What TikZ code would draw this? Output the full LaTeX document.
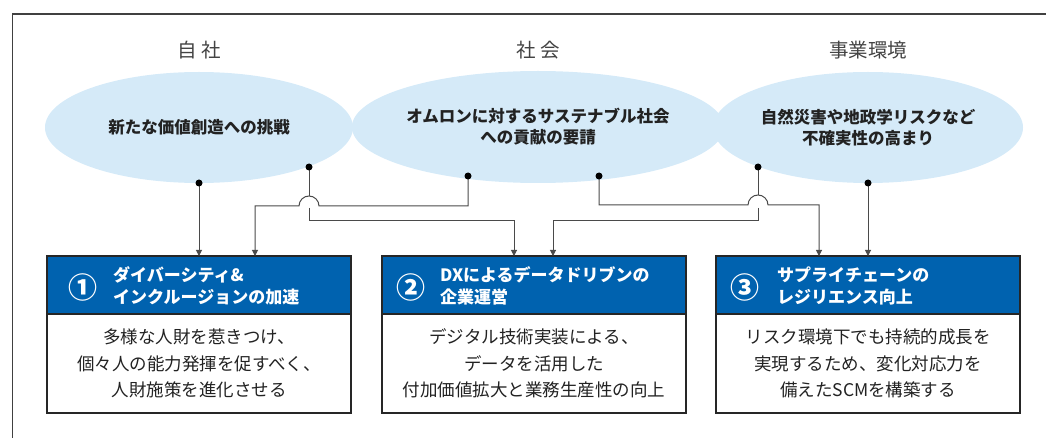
\documentclass[tikz,border=0pt]{standalone}
\usepackage{fontspec}
\setmainfont{Noto Sans CJK JP}
\usetikzlibrary{shapes.geometric,arrows.meta}
\definecolor{ellfill}{HTML}{D5EAF8}
\definecolor{hdrblue}{HTML}{0062AF}
\definecolor{linegray}{HTML}{4A4A4A}
\definecolor{txt}{HTML}{222222}
\tikzset{
  ell/.style={ellipse, fill=ellfill, draw=none, inner sep=0pt, align=center, text=txt,
    font=\fontsize{16.5}{21}\selectfont\bfseries},
  ttl/.style={text=txt!85, font=\fontsize{19.5}{22}\selectfont},
  hdrbox/.style={rectangle, fill=hdrblue, draw=black!85, line width=1.1pt, minimum width=304pt,
    minimum height=58pt, inner sep=0pt, outer sep=0pt},
  bodybox/.style={rectangle, fill=white, draw=black!85, line width=1.1pt, minimum width=304pt,
    minimum height=99pt, inner sep=0pt, outer sep=0pt, align=center, text=txt,
    font=\fontsize{17.5}{26.5}\selectfont},
  num/.style={text=white, font=\fontsize{29}{29}\selectfont\bfseries, inner sep=0pt},
  hdrtxt/.style={text=white, align=left, anchor=west, inner sep=0pt,
    font=\fontsize{17}{22}\selectfont\bfseries},
  conn/.style={draw=linegray, line width=1pt},
  arr/.style={conn, -{Triangle[width=6pt,length=6pt]}},
  dot/.style={circle, fill=black, inner sep=0pt, minimum size=7pt},
}
\begin{document}
\begin{tikzpicture}[x=1pt,y=-1pt]
\useasboundingbox (0,0) rectangle (1046,438);
% frame
\coordinate (fr1) at (1046,14);
\coordinate (fr2) at (12.5,14);
\coordinate (fr3) at (12.5,438);
\draw[draw=black!75, line width=1.3pt] (fr1) -- (fr2) -- (fr3);

% titles
\node[ttl] (t1) at (199,50) {自 社};
\node[ttl] (t2) at (538,50) {社 会};
\node[ttl] (t3) at (868,50) {事業環境};

% ellipses
\node[ell, minimum width=308pt, minimum height=111pt] (e1) at (199,127.5) {新たな価値創造への挑戦};
\node[ell, minimum width=318pt, minimum height=112pt] (e2) at (538,127) {オムロンに対するサステナブル社会\\への貢献の要請};
\node[ell, minimum width=310pt, minimum height=111pt] (e3) at (868,127.5) {自然災害や地政学リスクなど\\不確実性の高まり};

% boxes
\node[hdrbox, anchor=north west] (h1) at (47,256) {};
\node[bodybox, anchor=north] (b1) at (h1.south) {多様な人財を惹きつけ、\\個々人の能力発揮を促すべく、\\人財施策を進化させる};
\node[hdrbox, anchor=north west] (h2) at (382,256) {};
\node[bodybox, anchor=north] (b2) at (h2.south) {デジタル技術実装による、\\データを活用した\\付加価値拡大と業務生産性の向上};
\node[hdrbox, anchor=north west] (h3) at (716,256) {};
\node[bodybox, anchor=north] (b3) at (h3.south) {リスク環境下でも持続的成長を\\実現するため、変化対応力を\\備えたSCMを構築する};

\node[num] (n1) at (83,287) {①};
\node[hdrtxt] (ht1) at (113,286) {ダイバーシティ\&\\インクルージョンの加速};
\node[num] (n2) at (411,287) {②};
\node[hdrtxt] (ht2) at (440,286) {DXによるデータドリブンの\\企業運営};
\node[num] (n3) at (745,287) {③};
\node[hdrtxt] (ht3) at (777,286) {サプライチェーンの\\レジリエンス向上};

% connector points
\coordinate (dA) at (199,183);
\coordinate (dB) at (309,167);
\coordinate (dC) at (468,176);
\coordinate (dD) at (599,176);
\coordinate (dE) at (758,167);
\coordinate (dF) at (868,183);
\coordinate (a1a) at (199,256);
\coordinate (a1b) at (255,256);
\coordinate (a2a) at (514,256);
\coordinate (a2b) at (553,256);
\coordinate (a3a) at (819,256);
\coordinate (a3b) at (868,256);

% connectors
\draw[arr] (dA) -- (a1a);
\draw[conn] (dB) -- ++(0,29);
\draw[arr] ([yshift=-41pt]dB) -- ++(0,13) -| (a2a);
\draw[arr] (dC) -- ++(0,30) -- (319,206) arc[start angle=0,end angle=180,radius=10pt] -| (a1b);
\draw[arr] (dD) -- ++(0,29) -- (748,205) arc[start angle=180,end angle=0,radius=10pt] -| (a3a);
\draw[conn] (dE) -- ++(0,28);
\draw[arr] ([yshift=-41pt]dE) -- ++(0,13) -| (a2b);
\draw[arr] (dF) -- (a3b);

\foreach \d in {dA,dB,dC,dD,dE,dF} \node[dot] at (\d) {};
\end{tikzpicture}
\end{document}
